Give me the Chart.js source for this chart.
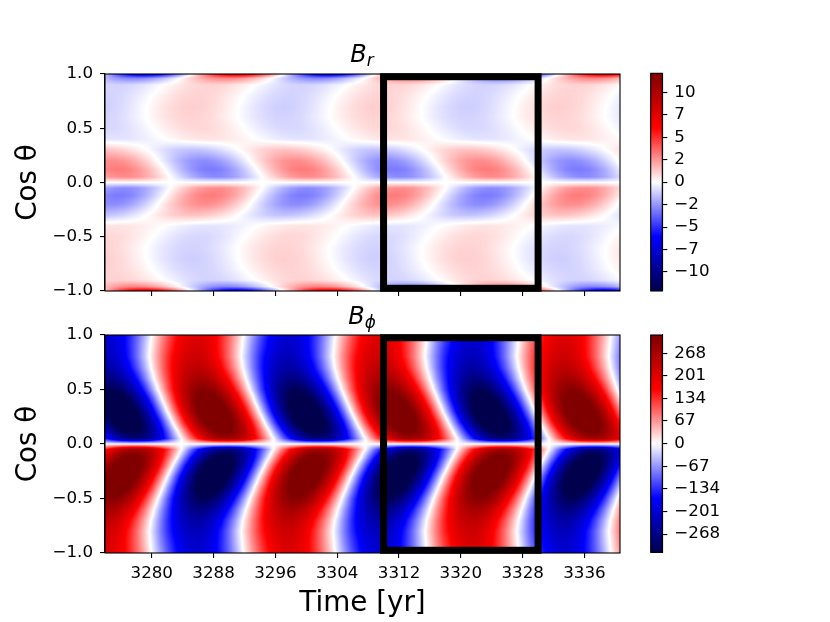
<!DOCTYPE html>
<html>
<head>
<meta charset="utf-8">
<script src="https://cdn.jsdelivr.net/npm/chart.js@4.4.1/dist/chart.umd.min.js"></script>
<style>
  html, body { margin: 0; padding: 0; background: #fff; }
  #page { position: relative; width: 830px; height: 622px; overflow: hidden; font-family: 'DejaVu Sans', sans-serif; }
  .box { position: absolute; }
  .ttl { position: absolute; left: 262px; width: 200px; text-align: center; font-size: 24px; line-height: 1; font-style: italic; color: #000; }
  .ttl span { font-size: 0.7em; position: relative; top: 0.25em; }
</style>
</head>
<body>
<div id="page">
  <div class="box" style="left:0;top:40px;width:630px;height:270px"><canvas id="br-chart"></canvas></div>
  <div class="box" style="left:0;top:300px;width:630px;height:322px"><canvas id="bphi-chart"></canvas></div>
  <div class="box" style="left:640px;top:40px;width:120px;height:270px"><canvas id="br-bar"></canvas></div>
  <div class="box" style="left:640px;top:300px;width:120px;height:270px"><canvas id="bphi-bar"></canvas></div>
  <div class="ttl" style="top:42px">B<span>r</span></div>
  <div class="ttl" style="top:304px">B<span>ϕ</span></div>
</div>
<script>
// axes
const timeMin = 3273.95;
const timeMax = 3340.6;
const timeTicks = [3280, 3288, 3296, 3304, 3312, 3320, 3328, 3336];
const cosTicks = [-1, -0.5, 0, 0.5, 1];

// the pattern repeats every half cycle with the sign reversed,
// and the south is the north with the sign reversed
const cycleStart = 3284.1;   // B_phi cusp on the equator
const halfCycle = 11.89;     // years
const cosRows = [0.05, 0.12, 0.2, 0.3, 0.4, 0.5, 0.6, 0.7, 0.8, 0.9, 0.96, 1.0];

// northern hemisphere, one half cycle, 12 steps in time (rows follow cosRows)
const brHalfCycle = [
    [-1.24, -1.87, -2.37, -2.70, -2.85, -2.82, -2.57, -2.17, -1.62, -0.95, -0.22, 0.53],
    [-1.96, -2.57, -3.03, -3.27, -3.28, -3.08, -2.66, -2.07, -1.33, -0.50, 0.36, 1.20],
    [-2.19, -2.60, -2.82, -2.85, -2.68, -2.34, -1.84, -1.21, -0.50, 0.25, 0.98, 1.64],
    [-1.44, -1.52, -1.49, -1.35, -1.13, -0.82, -0.47, -0.08, 0.32, 0.69, 1.02, 1.28],
    [0.43, 0.56, 0.65, 0.69, 0.69, 0.64, 0.55, 0.42, 0.26, 0.09, -0.10, -0.27],
    [0.87, 0.97, 1.00, 0.96, 0.86, 0.70, 0.49, 0.25, -0.01, -0.27, -0.51, -0.71],
    [1.06, 1.10, 1.07, 0.96, 0.79, 0.56, 0.30, 0.02, -0.27, -0.54, -0.77, -0.94],
    [1.15, 1.20, 1.17, 1.06, 0.88, 0.64, 0.36, 0.05, -0.26, -0.56, -0.81, -1.01],
    [0.97, 1.07, 1.10, 1.05, 0.93, 0.75, 0.51, 0.25, -0.04, -0.32, -0.58, -0.81],
    [0.70, 0.89, 1.03, 1.09, 1.09, 1.00, 0.85, 0.64, 0.39, 0.11, -0.18, -0.45],
    [0.40, 1.15, 1.83, 2.38, 2.78, 2.98, 2.97, 2.77, 2.38, 1.82, 1.14, 0.39],
    [-1.96, -0.01, 1.93, 3.74, 5.30, 6.49, 7.24, 7.50, 7.25, 6.50, 5.31, 3.76]
];

const bphiHalfCycle = [
    [19, 92, 158, 214, 256, 280, 284, 270, 236, 188, 126, 55],
    [70, 152, 224, 281, 318, 335, 327, 298, 248, 182, 102, 18],
    [132, 216, 284, 334, 360, 362, 340, 294, 228, 147, 56, -40],
    [195, 270, 326, 360, 370, 354, 314, 253, 174, 84, -11, -106],
    [230, 290, 331, 349, 344, 316, 264, 196, 114, 25, -66, -152],
    [241, 286, 310, 314, 296, 258, 202, 133, 55, -27, -108, -181],
    [232, 262, 275, 268, 244, 202, 148, 82, 12, -60, -126, -186],
    [220, 240, 245, 232, 204, 162, 108, 49, -15, -78, -136, -184],
    [206, 222, 224, 209, 181, 140, 89, 32, -26, -82, -134, -176],
    [192, 209, 211, 200, 174, 136, 89, 36, -18, -74, -122, -162],
    [186, 203, 207, 196, 173, 136, 92, 42, -14, -66, -115, -156],
    [182, 200, 205, 196, 173, 140, 96, 46, -7, -60, -108, -150]
];

// colour bars
const brLimit = 12.6;
const bphiLimit = 322;
const brBarTicks = [-10.4, -7.8, -5.2, -2.6, 0, 2.6, 5.2, 7.8, 10.4];
const brBarLabels = ['\u221210', '\u22127', '\u22125', '\u22122', '0', '2', '5', '7', '10'];
const bphiBarTicks = [-268, -201, -134, -67, 0, 67, 134, 201, 268];
const bphiBarLabels = ['\u2212268', '\u2212201', '\u2212134', '\u221267', '0', '67', '134', '201', '268'];

// highlighted window
const boxStart = 3310;
const boxEnd = 3330;
const boxCos = 0.975;

const fields = {
    br: { table: brHalfCycle, limit: brLimit },
    bphi: { table: bphiHalfCycle, limit: bphiLimit }
};

Chart.defaults.font.family = "'DejaVu Sans', sans-serif";
Chart.defaults.color = '#000';

const tickFont = { size: 16.7 };
const labelFont = { size: 27.8 };

function seismic(f) {
    const stops = [[0, 0, 0.3], [0, 0, 1], [1, 1, 1], [1, 0, 0], [0.5, 0, 0]];
    let p = Math.min(1, Math.max(0, (f + 1) / 2)) * 4;
    const i = Math.min(3, Math.floor(p));
    const t = p - i;
    return stops[i].map((a, k) => Math.round(255 * (a + (stops[i + 1][k] - a) * t)));
}

function rowValue(row, u) {
    const n = row.length;
    const j = Math.min(n - 1, Math.floor(u));
    const f = u - j;
    const next = j + 1 < n ? row[j + 1] : -row[0];
    return row[j] * (1 - f) + next * f;
}

function fieldAt(table, t, c) {
    const hc = (t - cycleStart) / halfCycle;
    const k = Math.floor(hc);
    const sign = (k % 2 === 0) ? 1 : -1;
    const u = (hc - k) * table[0].length;
    const a = Math.abs(c);
    const hemi = c < 0 ? -1 : 1;
    let v;
    if (a <= cosRows[0]) {
        v = rowValue(table[0], u) * a / cosRows[0];
    } else if (a >= cosRows[cosRows.length - 1]) {
        v = rowValue(table[table.length - 1], u);
    } else {
        let i = 0;
        while (cosRows[i + 1] < a) i++;
        const f = (a - cosRows[i]) / (cosRows[i + 1] - cosRows[i]);
        v = rowValue(table[i], u) * (1 - f) + rowValue(table[i + 1], u) * f;
    }
    return sign * hemi * v;
}

function drawFrame(ctx, a) {
    ctx.save();
    ctx.strokeStyle = '#000';
    ctx.lineWidth = 1.1;
    ctx.strokeRect(a.left, a.top, a.right - a.left, a.bottom - a.top);
    ctx.restore();
}

const heatmapPlugin = {
    id: 'heatmap',
    beforeDatasetsDraw(chart, args, opts) {
        const field = fields[opts.field];
        if (!field) return;
        const { ctx, chartArea: a, scales: { x, y } } = chart;
        const w = Math.round(a.right - a.left);
        const h = Math.round(a.bottom - a.top);
        const off = document.createElement('canvas');
        off.width = w;
        off.height = h;
        const octx = off.getContext('2d');
        const img = octx.createImageData(w, h);
        const times = [];
        for (let i = 0; i < w; i++) times.push(x.getValueForPixel(a.left + i + 0.5));
        for (let j = 0; j < h; j++) {
            const c = y.getValueForPixel(a.top + j + 0.5);
            for (let i = 0; i < w; i++) {
                const rgb = seismic(fieldAt(field.table, times[i], c) / field.limit);
                const p = (j * w + i) * 4;
                img.data[p] = rgb[0];
                img.data[p + 1] = rgb[1];
                img.data[p + 2] = rgb[2];
                img.data[p + 3] = 255;
            }
        }
        octx.putImageData(img, 0, 0);
        ctx.drawImage(off, a.left, a.top, w, h);
    },
    afterDatasetsDraw(chart, args, opts) {
        if (!fields[opts.field]) return;
        const { ctx, chartArea: a, scales: { x, y } } = chart;
        drawFrame(ctx, a);
        // black window
        const x0 = x.getPixelForValue(boxStart);
        const x1 = x.getPixelForValue(boxEnd);
        const y0 = y.getPixelForValue(boxCos);
        const y1 = y.getPixelForValue(-boxCos);
        ctx.save();
        ctx.strokeStyle = '#000';
        ctx.lineWidth = 7;
        ctx.strokeRect(x0, y0, x1 - x0, y1 - y0);
        ctx.restore();
    }
};

const colorbarPlugin = {
    id: 'colorbar',
    beforeDatasetsDraw(chart, args, opts) {
        const field = fields[opts.field];
        if (!field) return;
        const { ctx, chartArea: a, scales: { y } } = chart;
        for (let py = Math.floor(a.top); py < Math.ceil(a.bottom); py++) {
            const v = y.getValueForPixel(py + 0.5);
            const rgb = seismic(v / field.limit);
            ctx.fillStyle = `rgb(${rgb[0]},${rgb[1]},${rgb[2]})`;
            ctx.fillRect(a.left, py, a.right - a.left, 1);
        }
    },
    afterDatasetsDraw(chart, args, opts) {
        if (!fields[opts.field]) return;
        drawFrame(chart.ctx, chart.chartArea);
    }
};

function panelChart(id, field, showTime, pad, xHeight) {
    const ctx = document.getElementById(id).getContext('2d');
    return new Chart(ctx, {
        type: 'scatter',
        data: { datasets: [{ data: [] }] },
        plugins: [heatmapPlugin],
        options: {
            responsive: true,
            maintainAspectRatio: false,
            devicePixelRatio: 1,
            animation: false,
            events: [],
            layout: { padding: pad },
            plugins: {
                legend: { display: false },
                tooltip: { enabled: false },
                heatmap: { field: field }
            },
            scales: {
                x: {
                    type: 'linear',
                    min: timeMin,
                    max: timeMax,
                    afterBuildTicks: scale => { scale.ticks = timeTicks.map(v => ({ value: v })); },
                    afterFit: scale => { scale.height = xHeight; },
                    ticks: {
                        font: tickFont,
                        padding: 6,
                        maxRotation: 0,
                        callback: v => showTime ? String(v) : ''
                    },
                    grid: { drawOnChartArea: false, drawTicks: true, tickLength: 5, color: '#000', lineWidth: 1.1 },
                    border: { display: true, color: '#000', width: 1.1 },
                    title: {
                        display: showTime,
                        text: 'Time [yr]',
                        font: labelFont,
                        padding: { top: 0, bottom: 2 }
                    }
                },
                y: {
                    type: 'linear',
                    min: -1,
                    max: 1,
                    afterBuildTicks: scale => { scale.ticks = cosTicks.map(v => ({ value: v })); },
                    afterFit: scale => { scale.width = 105; },
                    ticks: {
                        font: tickFont,
                        padding: 7,
                        callback: v => (v < 0 ? '\u2212' : '') + Math.abs(v).toFixed(1)
                    },
                    grid: { drawOnChartArea: false, drawTicks: true, tickLength: 5, color: '#000', lineWidth: 1.1 },
                    border: { display: true, color: '#000', width: 1.1 },
                    title: {
                        display: true,
                        text: 'Cos \u03b8',
                        font: labelFont,
                        padding: { top: 12, bottom: 0 }
                    }
                }
            }
        }
    });
}

function barChart(id, field, ticks, labels, pad) {
    const ctx = document.getElementById(id).getContext('2d');
    const limit = fields[field].limit;
    return new Chart(ctx, {
        type: 'scatter',
        data: { datasets: [{ data: [] }] },
        plugins: [colorbarPlugin],
        options: {
            responsive: true,
            maintainAspectRatio: false,
            devicePixelRatio: 1,
            animation: false,
            events: [],
            layout: { padding: pad },
            plugins: {
                legend: { display: false },
                tooltip: { enabled: false },
                colorbar: { field: field }
            },
            scales: {
                x: { display: false, min: 0, max: 1 },
                y: {
                    position: 'right',
                    min: -limit,
                    max: limit,
                    afterBuildTicks: scale => { scale.ticks = ticks.map(v => ({ value: v })); },
                    afterFit: scale => { scale.width = 97.7; },
                    ticks: {
                        font: tickFont,
                        padding: 7,
                        callback: (v, i) => labels[i]
                    },
                    grid: { drawOnChartArea: false, drawTicks: true, tickLength: 5, color: '#000', lineWidth: 1.1 },
                    border: { display: true, color: '#000', width: 1.1 }
                }
            }
        }
    });
}

panelChart('br-chart', 'br', false, { left: 0, right: 10, top: 34, bottom: 0 }, 19);
panelChart('bphi-chart', 'bphi', true, { left: 0, right: 10, top: 35, bottom: 0 }, 69);
barChart('br-bar', 'br', brBarTicks, brBarLabels, { left: 10.7, right: 0, top: 33.3, bottom: 19 });
barChart('bphi-bar', 'bphi', bphiBarTicks, bphiBarLabels, { left: 10.7, right: 0, top: 35, bottom: 17.7 });
</script>
</body>
</html>
